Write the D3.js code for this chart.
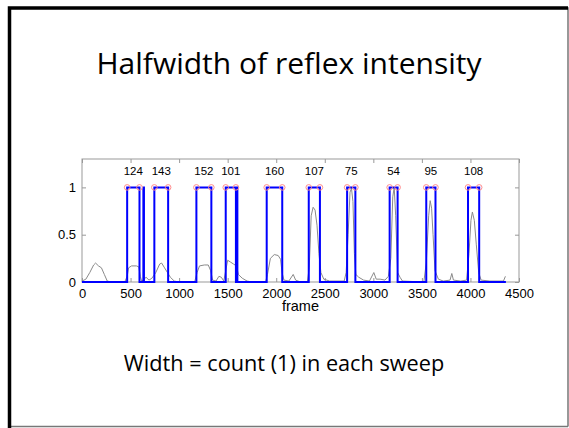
<!DOCTYPE html>
<html>
<head>
<meta charset="utf-8">
<script src="https://cdn.jsdelivr.net/npm/d3@7"></script>
<style>
  body { margin: 0; background: #fff; }
  svg { display: block; }
</style>
</head>
<body>
<div id="viz"></div>
<script>
// sweep edges (frames) and the count shown above each one
const sweepStart = [465, 745, 1178, 1480, 1902, 2335, 2730, 3168, 3545, 3975];
const sweepEnd   = [592, 887, 1332, 1585, 2062, 2450, 2815, 3250, 3640, 4090];
const sweepCount = [124, 143, 152, 101, 160, 107, 75, 54, 95, 108];

// extra narrow blips in the thresholded signal
const blipStart = [632, 1592];
const blipEnd   = [638, 1600];

// raw reflex intensity (gray trace)
const rawFrame = [0, 40, 80, 120, 140, 170, 200, 230, 260, 300, 440, 465, 480, 510, 560, 585, 600, 615, 640, 660, 690, 720, 760, 800, 820, 850, 880, 910, 950, 1000,
  1160, 1185, 1210, 1260, 1300, 1325, 1345, 1380, 1410, 1435, 1460, 1480, 1500, 1530, 1560, 1590, 1610, 1650, 1700, 1750,
  1890, 1910, 1940, 1980, 2020, 2045, 2060, 2080, 2130, 2175, 2200, 2250, 2320, 2340, 2360, 2380, 2400, 2420, 2440, 2460, 2490, 2550,
  2700, 2720, 2740, 2760, 2775, 2790, 2805, 2820, 2850, 2900, 2960, 3005, 3030, 3070, 3120, 3155, 3180, 3200, 3215, 3230, 3250, 3275, 3300,
  3520, 3545, 3570, 3585, 3600, 3615, 3635, 3670, 3720, 3790, 3808, 3825, 3900, 3960, 3985, 4005, 4020, 4040, 4060, 4085, 4110, 4200, 4340, 4360];
const rawValue = [0.01, 0.03, 0.1, 0.18, 0.2, 0.17, 0.15, 0.08, 0.01, 0, 0, 0.06, 0.15, 0.17, 0.17, 0.16, 0.06, 0.01, 0.03, 0.05, 0.02, 0.04, 0.1, 0.19, 0.2, 0.15, 0.1, 0.05, 0.01, 0,
  0, 0.1, 0.17, 0.18, 0.18, 0.12, 0.02, 0.01, 0.06, 0.05, 0.01, 0.12, 0.23, 0.21, 0.19, 0.17, 0.08, 0.04, 0.01, 0,
  0, 0.08, 0.25, 0.29, 0.28, 0.24, 0.1, 0.02, 0.01, 0.08, 0.02, 0, 0, 0.15, 0.7, 0.79, 0.76, 0.6, 0.3, 0.1, 0.03, 0.01,
  0.01, 0.1, 0.5, 0.95, 0.99, 0.85, 0.3, 0.08, 0.05, 0.02, 0.01, 0.1, 0.03, 0.03, 0.02, 0.06, 0.25, 0.9, 1.0, 0.7, 0.1, 0.05, 0.01,
  0, 0.2, 0.7, 0.86, 0.78, 0.5, 0.12, 0.03, 0.01, 0.02, 0.09, 0.02, 0.01, 0.02, 0.3, 0.65, 0.74, 0.65, 0.4, 0.1, 0.02, 0.01, 0.01, 0.06];

const xTicks = [0, 500, 1000, 1500, 2000, 2500, 3000, 3500, 4000, 4500];
const yTicks = [0, 0.5, 1];
const signalEnd = 4365;

const W = 569, H = 428;
const margin = {top: 159, right: 50, bottom: 146, left: 82},
    width = W - margin.left - margin.right,
    height = H - margin.top - margin.bottom;

const svg = d3.select("#viz")
  .append("svg")
    .attr("width", W)
    .attr("height", H);

svg.append("rect").attr("width", W).attr("height", H).attr("fill", "#fff");

// slide frame: heavy top/left, light right/bottom
svg.append("path").attr("d", "M568,426.5 H9.5 V8 H568 V426.5")
  .attr("fill", "none").attr("stroke", "#777").attr("stroke-width", 1.5);
svg.append("path").attr("d", "M9.5,428 V8 H568")
  .attr("fill", "none").attr("stroke", "#000").attr("stroke-width", 3.5);

// titles
svg.append("text")
  .attr("x", 289).attr("y", 74)
  .attr("text-anchor", "middle")
  .attr("font-family", "Open Sans, sans-serif")
  .attr("font-size", 30)
  .attr("fill", "#000")
  .text("Halfwidth of reflex intensity");

svg.append("text")
  .attr("x", 284).attr("y", 371)
  .attr("text-anchor", "middle")
  .attr("font-family", "Open Sans, sans-serif")
  .attr("font-size", 21.7)
  .attr("fill", "#000")
  .text("Width = count (1) in each sweep");

const g = svg.append("g")
  .attr("transform", `translate(${margin.left},${margin.top})`);

const x = d3.scaleLinear().domain([0, 4500]).range([0, width]);
const y = d3.scaleLinear().domain([0, 1.3]).range([height, 0]);

const axisFont = "Liberation Sans, Arial, sans-serif";
const axisColor = "#999";

// axes, ticks inward on all four sides
function styleAxis(sel) {
  sel.select(".domain").remove();
  sel.selectAll(".tick line").attr("stroke", axisColor);
  sel.selectAll(".tick text").attr("fill", "#000")
    .attr("font-family", axisFont).attr("font-size", 13);
}

g.append("g").attr("transform", `translate(0,${height})`)
  .call(d3.axisBottom(x).tickValues(xTicks).tickSizeInner(-4).tickPadding(7).tickFormat(d3.format("d")))
  .call(styleAxis);
g.append("g")
  .call(d3.axisTop(x).tickValues(xTicks).tickSizeInner(-4).tickFormat(""))
  .call(styleAxis);
g.append("g")
  .call(d3.axisLeft(y).tickValues(yTicks).tickSizeInner(-4).tickPadding(6).tickFormat(d3.format("")))
  .call(styleAxis);
g.append("g").attr("transform", `translate(${width},0)`)
  .call(d3.axisRight(y).tickValues(yTicks).tickSizeInner(-4).tickFormat(""))
  .call(styleAxis);

g.append("rect")
  .attr("width", width).attr("height", height)
  .attr("fill", "none").attr("stroke", axisColor).attr("stroke-width", 1);

// raw intensity
const raw = rawFrame.map((f, i) => [f, rawValue[i]]);
g.append("path")
  .datum(raw)
  .attr("fill", "none")
  .attr("stroke", "#8a8a8a")
  .attr("stroke-width", 1)
  .attr("d", d3.line().x(d => x(d[0])).y(d => y(d[1])));

// thresholded step signal
const edges = sweepStart.map((s, i) => [s, sweepEnd[i]])
  .concat(blipStart.map((s, i) => [s, blipEnd[i]]))
  .sort((a, b) => a[0] - b[0]);
const steps = [[0, 0]];
edges.forEach(e => { steps.push([e[0], 0], [e[0], 1], [e[1], 1], [e[1], 0]); });
steps.push([signalEnd, 0]);

g.append("path")
  .datum(steps)
  .attr("fill", "none")
  .attr("stroke", "#0000ff")
  .attr("stroke-width", 2)
  .attr("d", d3.line().x(d => x(d[0])).y(d => y(d[1])));

// half-width markers
const corners = sweepStart.concat(sweepEnd);
g.selectAll("circle.mark")
  .data(corners)
  .enter().append("circle")
    .attr("class", "mark")
    .attr("cx", d => x(d))
    .attr("cy", y(1))
    .attr("r", 2.8)
    .attr("fill", "none")
    .attr("stroke", "#ff8c8c")
    .attr("stroke-width", 1);

// counts above each sweep
g.selectAll("text.count")
  .data(sweepCount)
  .enter().append("text")
    .attr("class", "count")
    .attr("x", (d, i) => x((sweepStart[i] + sweepEnd[i]) / 2))
    .attr("y", y(1.13))
    .attr("text-anchor", "middle")
    .attr("font-family", axisFont)
    .attr("font-size", 11.5)
    .attr("fill", "#000")
    .text(d => d);

g.append("text")
  .attr("x", width / 2)
  .attr("y", height + 29)
  .attr("text-anchor", "middle")
  .attr("font-family", axisFont)
  .attr("font-size", 14.5)
  .attr("fill", "#000")
  .text("frame");
</script>
</body>
</html>
